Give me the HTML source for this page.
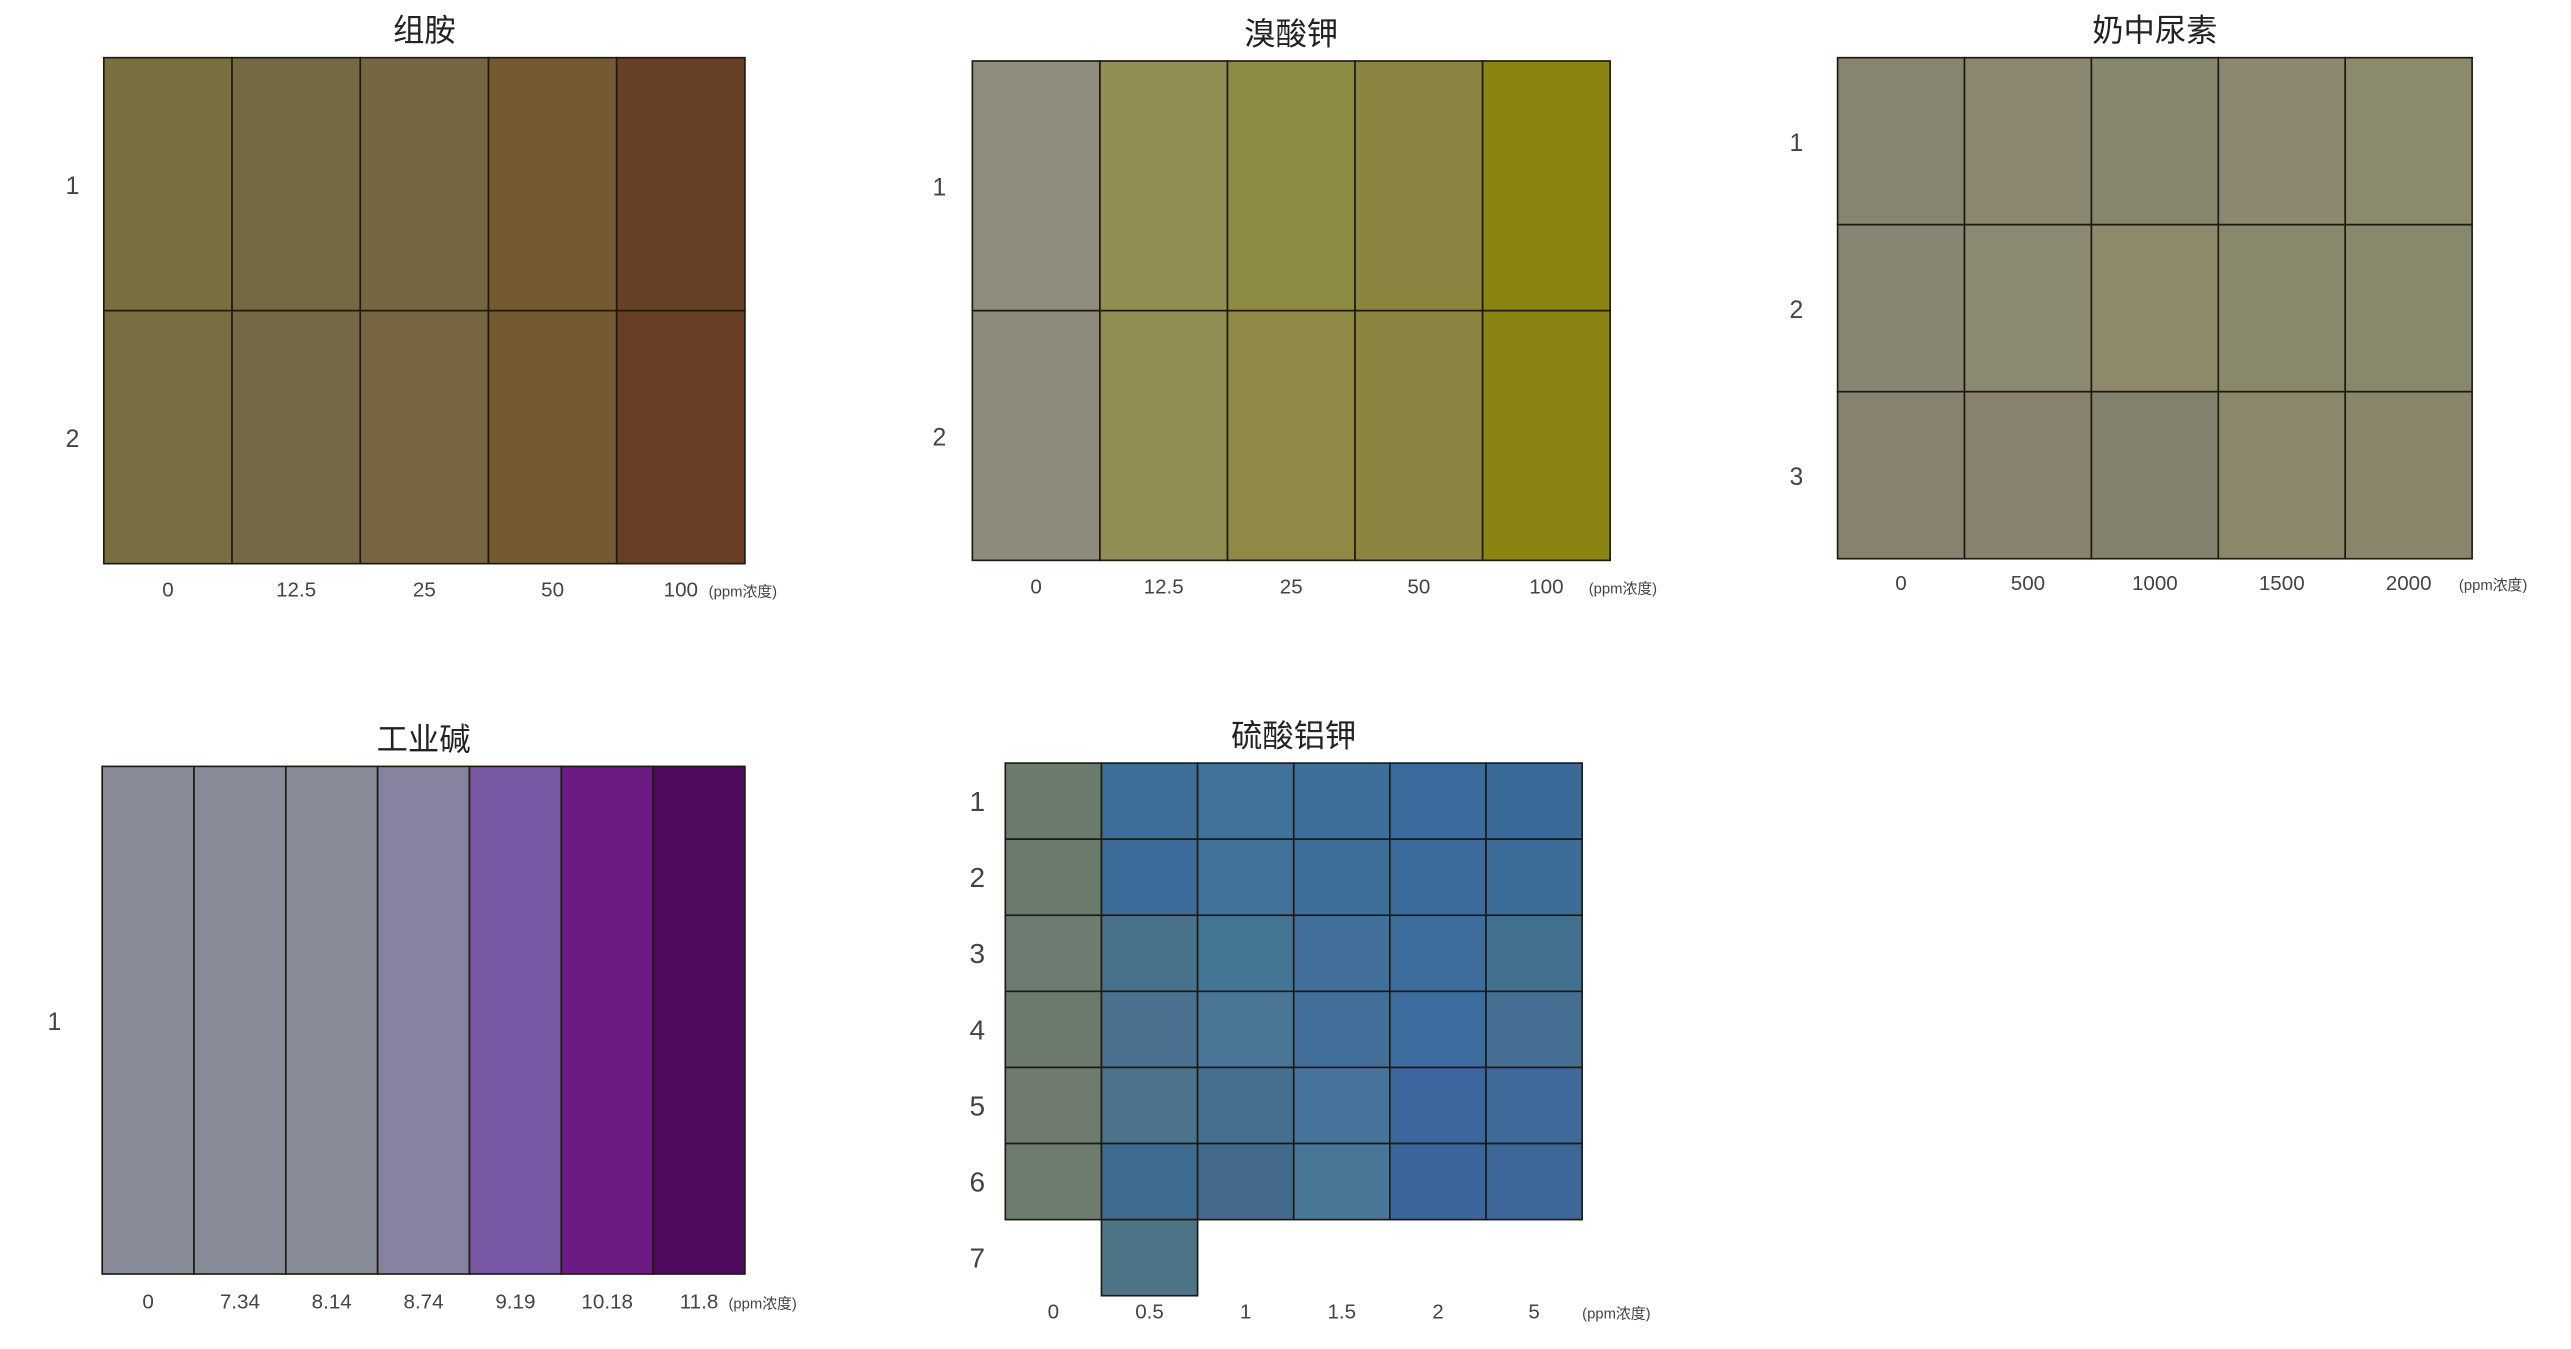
<!DOCTYPE html>
<html><head><meta charset="utf-8">
<style>
html,body{margin:0;padding:0;background:#fff;width:2571px;height:1349px;overflow:hidden}
svg{display:block}
text{font-family:"Liberation Sans","Noto Sans CJK SC",sans-serif;}
</style></head>
<body>
<svg id="root" width="2571" height="1349" viewBox="0 0 1560 818.5" preserveAspectRatio="none" xmlns="http://www.w3.org/2000/svg"></svg>
<script>
// ---- chart data ----
const histamineTitle = "组胺";
const histamineX = ["0","12.5","25","50","100"];
const histamineRows = ["1","2"];
const histamineColors = [
  ["#78703f","#756943","#776642","#735a30","#684026"],
  ["#776f41","#746944","#766540","#745a31","#683f25"]
];
const bromateTitle = "溴酸钾";
const bromateX = ["0","12.5","25","50","100"];
const bromateRows = ["1","2"];
const bromateColors = [
  ["#8e8c7c","#918e53","#8e8b45","#8a8540","#8a8410"],
  ["#8d8b7b","#918e55","#8e8a46","#8a8541","#8a8412"]
];
const ureaTitle = "奶中尿素";
const ureaX = ["0","500","1000","1500","2000"];
const ureaRows = ["1","2","3"];
const ureaColors = [
  ["#878470","#8a8670","#86876c","#8c8870","#8c8a6c"],
  ["#878672","#8b8a72","#8d896a","#8a886a","#88886c"],
  ["#878270","#88826e","#83826f","#8a876a","#8a866c"]
];
const alkaliTitle = "工业碱";
const alkaliX = ["0","7.34","8.14","8.74","9.19","10.18","11.8"];
const alkaliRows = ["1"];
const alkaliColors = [
  ["#878a97","#878b98","#888c97","#8782a0","#7758a5","#6c1b84","#4f0a5e"]
];
const alumTitle = "硫酸铝钾";
const alumX = ["0","0.5","1","1.5","2","5"];
const alumRows = ["1","2","3","4","5","6","7"];
const alumColors = [
  ["#6b7c6e","#3e6d98","#41729a","#3e6e9a","#3b6a9c","#3c6a98"],
  ["#6b7c6e","#3e6c9a","#42719a","#3f6e98","#3c6b9c","#3e6c98"],
  ["#6d7c70","#48728c","#447594","#42709a","#3e6c9c","#42708f"],
  ["#6c7b6d","#4a7290","#4a7798","#43709a","#3d6d9e","#446f92"],
  ["#6e7b6e","#4b738c","#457090","#47749a","#3b679e","#3e6a9a"],
  ["#6c7c6e","#406b90","#43698c","#477696","#3b669c","#3d6799"],
  [null,"#4e7488",null,null,null,null]
];
const unitLabel = "(ppm浓度)";

// ---- layout ----
const NS = "http://www.w3.org/2000/svg";
const root = document.getElementById('root');
function el(tag, attrs, parent){
  const e = document.createElementNS(NS, tag);
  for (const k in attrs) e.setAttribute(k, attrs[k]);
  (parent||root).appendChild(e);
  return e;
}
function drawChart(cfg, title, xs, rows, colors){
  const g = el('g', {});
  
  
  const nC = xs.length, nR = cfg.gridRows;
  const cw = (cfg.x1 - cfg.x0)/nC, rh = (cfg.y1 - cfg.y0)/nR;
  const xPos = i => cfg.x0 + i*cw;
  const yPos = j => cfg.y0 + j*rh;
  const t = el('text', {x:(cfg.x0+cfg.x1)/2, y:cfg.y0-10, 'text-anchor':'middle','font-size':19,fill:'#222'}, g);
  t.textContent = title;
  
  
  colors.forEach((row, j) => row.forEach((c, i) => {
    if (!c) return;
    const r = el('rect', {x:xPos(i), y:yPos(j), width:cw, height:rh, fill:c, stroke:'#1e1a10','stroke-width':1}, g);
    
    
  }));
  xs.forEach((lab, i) => {
    const tx = el('text', {x:xPos(i)+cw/2, y:cfg.labelY, 'text-anchor':'middle','font-size':12.5,fill:'#444'}, g);
    tx.textContent = lab;
    
    
  });
  const u = el('text', {x:xPos(nC)+cfg.unitDx, y:cfg.labelY, 'text-anchor':'start','font-size':9,fill:'#444'}, g);
  u.textContent = unitLabel;
  
  
  rows.forEach((lab, j) => {
    const ty = el('text', {x:cfg.yLabelX, y:yPos(j)+rh/2+6, 'text-anchor':'middle','font-size':cfg.yFont,fill:'#444'}, g);
    ty.textContent = lab;
    
    
  });
}
drawChart({name:'histamine-chart',x0:63,x1:452,y0:35,y1:342,gridRows:2,labelY:362,unitDx:-22,yLabelX:44,yFont:15}, histamineTitle, histamineX, histamineRows, histamineColors);
drawChart({name:'bromate-chart',x0:590,x1:977,y0:37,y1:340,gridRows:2,labelY:360,unitDx:-13,yLabelX:570,yFont:15}, bromateTitle, bromateX, bromateRows, bromateColors);
drawChart({name:'urea-chart',x0:1115,x1:1500,y0:35,y1:339,gridRows:3,labelY:358,unitDx:-8,yLabelX:1090,yFont:15}, ureaTitle, ureaX, ureaRows, ureaColors);
drawChart({name:'alkali-chart',x0:62,x1:452,y0:465,y1:773,gridRows:1,labelY:794,unitDx:-10,yLabelX:33,yFont:15}, alkaliTitle, alkaliX, alkaliRows, alkaliColors);
drawChart({name:'alum-chart',x0:610,x1:960,y0:463,y1:740,gridRows:6,labelY:800,unitDx:0,yLabelX:593,yFont:17}, alumTitle, alumX, alumRows, alumColors);
</script>
</body></html>
